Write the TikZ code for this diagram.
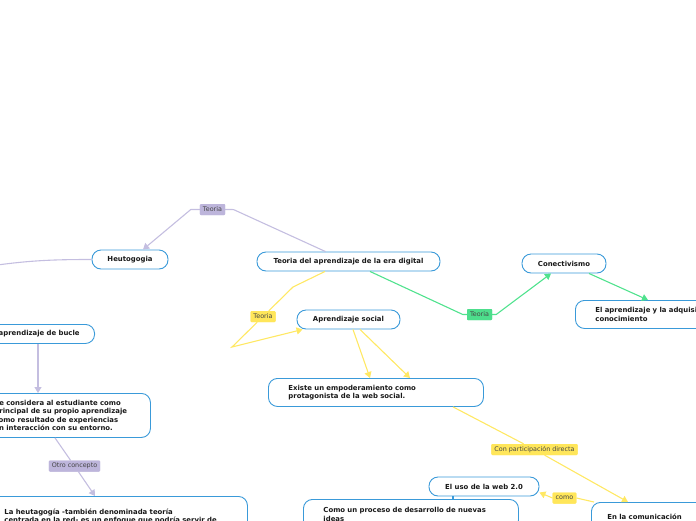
\documentclass[tikz,border=0pt]{standalone}
\usepackage{fontspec}
\setmainfont{DejaVu Sans}
\usetikzlibrary{calc,arrows.meta}
\definecolor{mapblue}{RGB}{58,154,217}
\definecolor{lilac}{RGB}{196,190,224}
\definecolor{lilacfill}{RGB}{189,181,219}
\definecolor{sun}{RGB}{255,232,100}
\definecolor{sunfill}{RGB}{255,230,90}
\definecolor{mint}{RGB}{80,226,142}
\definecolor{mintfill}{RGB}{77,222,140}
\definecolor{tagtext}{RGB}{70,70,70}

\begin{document}
\begin{tikzpicture}[x=1pt,y=-1pt,
    topic/.style={draw=mapblue, line width=0.9pt, fill=white, rounded corners=9pt,
      font=\fontsize{6.9}{8.4}\selectfont\bfseries, text=black!90, inner xsep=0pt,
      minimum height=19pt},
    tag/.style={rounded corners=1pt, inner xsep=3pt, inner ysep=0pt, minimum height=11pt,
      font=\fontsize{6.4}{7}\selectfont, text=tagtext},
    lilacline/.style={draw=lilac, line width=1.1pt},
    sunline/.style={draw=sun, line width=1.1pt},
    mintline/.style={draw=mint, line width=1.1pt},
    tip/.style={-{Triangle[length=6pt,width=7pt]}}]

  \useasboundingbox (0,0) rectangle (696,520);

  % main topics
  \node[topic, minimum width=76pt] (heu) at (130,259.5) {Heutogogia};
  \node[topic, minimum width=183pt] (tda) at (348.5,261.5) {Teoria del aprendizaje de la era digital};
  \node[topic, minimum width=84pt] (conn) at (564,263.5) {Conectivismo};
  \node[topic, minimum width=103pt] (asoc) at (348.5,319.5) {Aprendizaje social};
  \node[topic, anchor=north west, minimum height=28pt, inner xsep=20pt, text width=180pt, align=left]
    (eac) at (575,300) {El aprendizaje y la adquisición del\\conocimiento};
  \node[topic, anchor=north east, inner xsep=15pt, text width=110pt, align=right]
    (bucle) at (95,324) {aprendizaje de bucle};
  \node[topic, anchor=north west, minimum height=44pt, inner xsep=20pt, text width=136pt, align=left]
    (estu) at (-26,393) {Se considera al estudiante como\\principal de su propio aprendizaje\\como resultado de experiencias\\en interacción con su entorno.};
  \node[topic, anchor=north west, minimum height=28pt, inner xsep=20pt, text width=175pt, align=left]
    (emp) at (268,378) {Existe un empoderamiento como\\protagonista de la web social.};
  \node[topic, minimum width=110pt] (uso) at (484,486.5) {El uso de la web 2.0};
  \node[topic, anchor=north west, minimum height=30pt, inner xsep=20pt, text width=175pt, align=left]
    (proc) at (303,499) {Como un proceso de desarrollo de nuevas\\ideas};
  \node[topic, anchor=north west, minimum height=28pt, inner xsep=16pt, text width=100pt, align=left]
    (com) at (591,502) {En la comunicación\\[9pt]};
  \node[topic, anchor=north west, minimum height=40pt, inner xsep=20pt, text width=223pt, align=left]
    (heuta) at (-16,496) {La heutagogía -también denominada teoría\\centrada en la red- es un enfoque que podría servir de\\};

  % labels
  \node[tag, fill=lilacfill] (tp) at (212.5,209.5) {Teoria};
  \node[tag, fill=sunfill] (ty) at (263,316.5) {Teoria};
  \node[tag, fill=mintfill] (tg) at (479.5,314.5) {Teoria};
  \node[tag, fill=sunfill] (cpd) at (534.5,449.5) {Con participación directa};
  \node[tag, fill=sunfill] (como) at (564.5,498) {como};
  \node[tag, fill=lilacfill] (otro) at (74.5,466) {Otro concepto};
  \coordinate (offl) at (-10,266);

  % lilac connectors
  \draw[lilacline] ([xshift=-23pt]tda.north) -- ++(-92,-42) -- (tp.east);
  \draw[lilacline, tip] (tp.west) -- ++(-9,0) -- ([xshift=13pt]heu.north);
  \draw[lilacline] (heu.west) to[out=180,in=8] (offl);
  \draw[lilacline, tip] ([xshift=-57pt]bucle.south east) -- ([xshift=64pt]estu.north west);
  \draw[lilacline] ([xshift=81pt]estu.south west) -- (otro);
  \draw[lilacline, tip] (otro) -- ([xshift=111pt]heuta.north west);

  % yellow connectors
  \draw[sunline] ([xshift=-23.5pt]tda.south) -- (293,287) -- (ty);
  \draw[sunline, tip] (ty) -- (232,347) -- ([xshift=6pt]asoc.south west);
  \draw[sunline, tip] ([xshift=4.5pt]asoc.south) -- ([xshift=102pt]emp.north west);
  \draw[sunline, tip] ([xshift=11.5pt]asoc.south) -- ([xshift=142pt]emp.north west);
  \draw[sunline] ([xshift=185pt]emp.south west) -- (cpd);
  \draw[sunline, tip] (cpd) -- ([xshift=37pt]com.north west);
  \draw[sunline] ([xshift=3pt]com.north west) -- (como.east);
  \draw[sunline, tip] (como.west) -- ([yshift=-6pt]uso.east);

  % green connectors
  \draw[mintline] ([xshift=21.5pt]tda.south) -- ([xshift=-4pt]tg.west) -- (tg.west);
  \draw[mintline, tip] (tg.east) -- ++(4,0) -- ([xshift=-13pt]conn.south);
  \draw[mintline, tip] ([xshift=25pt]conn.south) -- ([xshift=73pt]eac.north west);

  % blue link
  \draw[mapblue, line width=2.5pt] ([xshift=-31pt]uso.south) -- ([xshift=150pt]proc.north west);

  % labels again on top
  \node[tag, fill=lilacfill] at (tp) {Teoria};
  \node[tag, fill=sunfill] at (ty) {Teoria};
  \node[tag, fill=mintfill] at (tg) {Teoria};
  \node[tag, fill=sunfill] at (cpd) {Con participación directa};
  \node[tag, fill=sunfill] at (como) {como};
  \node[tag, fill=lilacfill] at (otro) {Otro concepto};

\end{tikzpicture}
\end{document}
